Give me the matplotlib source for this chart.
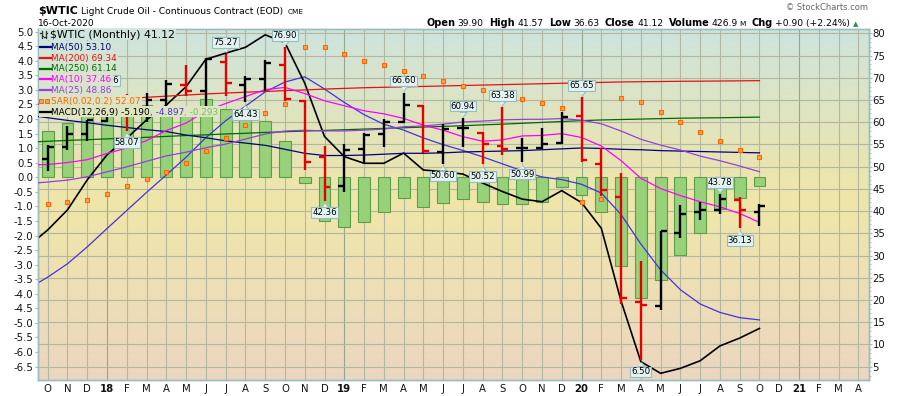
import numpy as np
import matplotlib
matplotlib.use("Agg")
import matplotlib.pyplot as plt
import matplotlib.transforms as mtransforms
from matplotlib.lines import Line2D
from matplotlib.patches import Rectangle

plt.rcParams['font.family'] = ['DejaVu Sans']
plt.rcParams['axes.unicode_minus'] = False

W, H = 900, 396

# --- monthly bars Oct 2017 .. Oct 2020, axis runs on to Apr 2021 ---
month_labels = ['O', 'N', 'D', '18', 'F', 'M', 'A', 'M', 'J', 'J', 'A', 'S',
                'O', 'N', 'D', '19', 'F', 'M', 'A', 'M', 'J', 'J', 'A', 'S',
                'O', 'N', 'D', '20', 'F', 'M', 'A', 'M', 'J', 'J', 'A', 'S',
                'O', 'D', '21', 'F', 'M', 'A']

opens = [51.67, 54.50, 57.45, 60.20, 64.78, 61.69, 64.92, 68.31, 67.04, 73.60, 68.40, 69.80,
         72.90, 64.80, 52.10, 45.70, 53.90, 57.30, 60.10, 63.60, 53.20, 58.60, 57.60, 54.60,
         54.10, 54.10, 55.40, 61.30, 50.60, 43.20, 19.60, 18.70, 35.10, 39.90, 40.20, 42.50, 39.90]
highs = [54.90, 59.05, 60.51, 66.66, 66.32, 66.55, 69.56, 72.90, 74.46, 75.27, 70.40, 73.90,
         76.90, 65.00, 54.55, 55.20, 57.60, 60.73, 66.60, 63.90, 59.70, 60.94, 57.70, 63.38,
         56.40, 58.60, 62.30, 65.65, 54.10, 48.50, 28.80, 35.60, 41.40, 42.10, 43.78, 43.10, 41.57]
lows = [49.10, 53.80, 55.82, 60.00, 58.07, 59.95, 62.40, 65.80, 63.59, 66.00, 64.43, 67.10,
        64.86, 49.20, 42.36, 44.40, 50.90, 54.52, 59.90, 53.00, 50.60, 54.50, 50.52, 52.60,
        50.99, 54.00, 55.10, 51.10, 43.32, 19.00, 6.50, 17.80, 33.90, 38.10, 39.30, 36.13, 36.63]
closes = [54.38, 57.40, 60.42, 64.73, 61.64, 64.94, 68.57, 67.04, 74.15, 68.76, 69.80, 73.25,
          65.31, 50.93, 45.41, 53.79, 57.22, 60.14, 63.91, 53.50, 58.47, 58.58, 55.10, 54.07,
          54.18, 55.17, 61.06, 51.56, 44.76, 20.48, 18.84, 35.49, 39.27, 40.27, 42.61, 40.22, 41.12]

# overlay lines start at Sep 2017 so they run in from the left edge
ma50 = [61.6, 61.0, 60.4, 59.9, 59.3, 58.8, 58.3, 57.9, 57.1, 56.5, 55.8, 55.3, 54.8,
        53.9, 53.0, 52.5, 52.5, 52.6, 52.8, 53.0, 53.0, 53.1, 53.3, 53.4, 53.5, 53.6,
        53.8, 54.0, 54.2, 54.1, 53.9, 53.8, 53.6, 53.5, 53.4, 53.3, 53.2, 53.10]
ma200 = [63.9, 64.2, 64.5, 64.75, 65.0, 65.3, 65.6, 65.85, 66.1, 66.35, 66.55, 66.75, 66.9,
         67.1, 67.25, 67.45, 67.6, 67.75, 67.85, 67.95, 68.05, 68.15, 68.25, 68.35, 68.45,
         68.55, 68.65, 68.75, 68.85, 68.95, 69.05, 69.1, 69.15, 69.2, 69.22, 69.26, 69.3, 69.34]
ma250 = [55.5, 55.7, 55.9, 56.05, 56.25, 56.4, 56.6, 56.8, 57.0, 57.15, 57.35, 57.5, 57.7,
         57.85, 58.0, 58.15, 58.3, 58.45, 58.6, 58.75, 58.9, 59.05, 59.2, 59.4, 59.55, 59.75,
         59.95, 60.15, 60.35, 60.5, 60.6, 60.7, 60.8, 60.9, 60.95, 61.0, 61.07, 61.14]
ma10 = [50.39, 50.46, 50.92, 51.56, 52.97, 54.20, 55.86, 58.12, 59.80, 62.49, 64.20, 65.75,
        67.33, 67.82, 66.44, 64.82, 63.70, 62.57, 61.88, 60.85, 59.33, 58.19, 56.73, 55.71,
        56.02, 56.90, 57.03, 57.42, 56.56, 54.65, 51.34, 47.38, 45.07, 43.49, 42.11, 40.95,
        39.46, 37.46]
ma25 = [46.17, 46.54, 46.97, 47.72, 48.83, 49.95, 51.20, 52.41, 53.25, 54.25, 55.07, 56.20,
        57.34, 58.02, 58.19, 58.03, 58.03, 58.20, 58.45, 58.98, 59.15, 59.55, 60.06, 60.25,
        60.53, 60.63, 60.66, 60.81, 60.45, 59.65, 58.01, 56.16, 54.84, 53.73, 52.37, 51.33,
        50.14, 48.86]
macd = [-2.37, -1.81, -1.12, -0.09, 0.77, 1.34, 1.97, 2.48, 3.11, 4.05, 4.26, 4.46, 4.89,
        4.62, 3.23, 1.40, 0.71, 0.48, 0.48, 0.83, 0.25, 0.19, 0.11, -0.20, -0.49, -0.75,
        -0.84, -0.46, -0.87, -1.75, -4.25, -6.33, -6.73, -6.56, -6.30, -5.79, -5.52, -5.190]
signal = [-3.83, -3.43, -2.97, -2.39, -1.76, -1.14, -0.52, 0.08, 0.69, 1.36, 1.94, 2.44, 2.93,
          3.27, 3.45, 3.03, 2.57, 2.15, 1.82, 1.62, 1.35, 1.12, 0.92, 0.70, 0.46, 0.22,
          0.01, -0.08, -0.24, -0.54, -1.28, -2.29, -3.18, -3.86, -4.35, -4.64, -4.82, -4.897]
# histogram and SAR: Oct 2017 .. Oct 2020
hist = [1.60, 1.86, 2.20, 2.50, 2.48, 2.49, 2.40, 2.42, 2.68, 2.33, 2.10, 1.93, 1.25,
        -0.20, -1.50, -1.72, -1.54, -1.20, -0.72, -1.03, -0.89, -0.75, -0.86, -0.93, -0.93,
        -0.84, -0.34, -0.61, -1.20, -3.04, -4.15, -3.52, -2.67, -1.92, -1.09, -0.72, -0.293]
sar = [41.7, 42.0, 42.6, 43.8, 45.6, 47.2, 48.7, 50.75, 53.5, 56.4, 59.3, 62.0, 64.0,
       76.85, 76.85, 75.3, 73.85, 72.9, 71.5, 70.4, 69.3, 68.1, 67.2, 66.2, 65.2, 64.4,
       63.3, 42.0, 42.7, 65.4, 64.5, 62.2, 60.0, 57.7, 55.7, 53.7, 52.07]

# high / low call-outs (bar index, side)
callouts = [(3, 'h'), (4, 'l'), (9, 'h'), (10, 'l'), (12, 'h'), (14, 'l'), (18, 'h'),
            (20, 'l'), (21, 'h'), (22, 'l'), (23, 'h'), (24, 'l'), (27, 'h'), (30, 'l'),
            (34, 'h'), (35, 'l')]

# --- colours ---
c_ma50, c_ma200, c_ma250 = '#000080', '#e81010', '#006a00'
c_ma10, c_ma25, c_sig = '#ff00ff', '#9440e0', '#4433dd'
c_sar = '#ff6600'
c_red = '#e60000'
grid_col, year_col = '#b3b7a0', '#93a690'
spine_col = '#9cbcc0'
lab_fc, lab_ec = '#e2f3f1', '#98bcbc'

g_pos = [0.0, 0.3, 0.5, 0.72, 1.0]
g_rgb = np.array([[235, 214, 193], [238, 224, 180], [240, 230, 168],
                  [226, 228, 188], [205, 228, 222]]) / 255.


def bg_at(f):
    return tuple(float(np.interp(f, g_pos, g_rgb[:, i])) for i in range(3))


fig = plt.figure(figsize=(9, 3.96), dpi=100)
px0, px1, py0, py1 = 37.7, 869.0, 28.7, 380.0
ax_m = fig.add_axes([px0 / W, 1 - py1 / H, (px1 - px0) / W, (py1 - py0) / H])
ax_p = ax_m.twinx()

kx = np.arange(len(closes))
kl = np.arange(-1, len(closes))

# background gradient
fr = np.linspace(0, 1, 300)
img = np.array([bg_at(f) for f in fr]).reshape(300, 1, 3)
ax_m.imshow(img, origin='lower', extent=(0, 1, 0, 1), transform=ax_m.transAxes,
            aspect='auto', zorder=0, interpolation='bilinear')

# grid
for i, lab in enumerate(month_labels):
    ax_m.axvline(i, color=year_col if lab.isdigit() else grid_col, lw=0.8, zorder=1)
for p in range(5, 81, 5):
    ax_m.plot([-2, 45], [p, p], transform=ax_p.transData, color=grid_col, lw=0.8, zorder=1)

# MACD panel (left scale)
ax_m.bar(kx, hist, width=0.6, color='#97d17a', edgecolor='#5f9e48', lw=0.8, zorder=2)
ax_m.plot(kl, signal, color=c_sig, lw=0.9, zorder=3)
ax_m.plot(kl, macd, color='black', lw=1.2, zorder=3)

# price overlays (right scale)
ax_p.plot(kl, ma250, color=c_ma250, lw=0.9, zorder=3)
ax_p.plot(kl, ma200, color=c_ma200, lw=0.9, zorder=3)
ax_p.plot(kl, ma50, color=c_ma50, lw=0.9, zorder=3)
ax_p.plot(kl, ma25, color=c_ma25, lw=0.9, zorder=3)
ax_p.plot(kl, ma10, color=c_ma10, lw=0.9, zorder=3)
ax_p.plot(kx, sar, ls='none', marker='s', ms=3, mfc='#ffa050', mec=c_sar, mew=0.8, zorder=4)

up = [closes[i] >= (closes[i - 1] if i else opens[0]) for i in range(len(closes))]
cols = ['black' if u else c_red for u in up]
ax_p.vlines(kx, lows, highs, colors=cols, lw=1.7, zorder=5)
ax_p.hlines(opens, kx - 0.3, kx, colors=cols, lw=1.7, zorder=5)
ax_p.hlines(closes, kx, kx + 0.3, colors=cols, lw=1.7, zorder=5)

# call-out boxes
tri_dn = [(-3.5, 0), (3.5, 0), (0, -4)]
tri_up = [(-3.5, 0), (3.5, 0), (0, 4)]
for i, side in callouts:
    if side == 'h':
        v, off, va, tri = highs[i], 1, 'bottom', tri_dn
    else:
        v, off, va, tri = lows[i], -1, 'top', tri_up
    tr = mtransforms.offset_copy(ax_p.transData, fig=fig, x=0, y=off * 6.5, units='dots')
    ax_p.plot([i], [v], marker=tri, ms=5.8, mfc=lab_fc, mec=lab_ec, mew=0.8,
              transform=tr, zorder=7, clip_on=False)
    ax_p.annotate('%.2f' % v, xy=(i, v), xytext=(0, off * 7.4), textcoords='offset pixels',
                  ha='center', va=va, fontsize=6.2, zorder=8,
                  bbox=dict(boxstyle='square,pad=0.1', fc=lab_fc, ec=lab_ec, lw=0.8))

# axes, ticks
ax_m.set_xlim(-0.506, 41.54)
ax_m.set_ylim(-6.96, 5.10)
ax_p.set_ylim(2.0, 81.03)

ax_m.set_yticks(np.arange(-6.5, 5.01, 0.5))
ax_m.set_yticklabels(['%.1f' % v for v in np.arange(-6.5, 5.01, 0.5)])
ax_p.set_yticks(np.arange(5, 81, 5))
ax_p.set_yticks(np.arange(3, 81, 1), minor=True)
ax_m.set_xticks(np.arange(len(month_labels)))
ax_m.set_xticklabels(month_labels)
for t in ax_m.get_xticklabels():
    if t.get_text().isdigit():
        t.set_fontweight('bold')

ax_m.tick_params(axis='y', length=2, width=0.8, color=spine_col, labelsize=7.3, pad=1,
                 labelcolor='#111111')
ax_m.tick_params(axis='x', length=0, labelsize=7.3, pad=3, labelcolor='#111111')
ax_p.tick_params(axis='y', which='major', length=2, width=0.8, color=spine_col,
                 labelsize=7.3, pad=0.5, labelcolor='#111111')
ax_p.tick_params(axis='y', which='minor', length=1.2, width=0.6, color=spine_col)
for a in (ax_m, ax_p):
    for s in a.spines.values():
        s.set_color(spine_col)
        s.set_linewidth(1.0)

# --- header and legend (figure level, pixel positions) ---
rend = fig.canvas.get_renderer()


def fx(x):
    return x / W


def fy(y):
    return 1 - y / H


def text_run(pieces, x, y, right=False):
    # pieces: (text, size, weight, color, gap_after)
    items, widths = [], []
    for s, size, wt, col, gap in pieces:
        t = fig.text(0, fy(y), s, fontsize=size, fontweight=wt, color=col,
                     ha='left', va='baseline', zorder=5)
        items.append(t)
        widths.append(t.get_window_extent(rend).width + gap)
    if right:
        x = x - sum(widths)
    for t, w in zip(items, widths):
        t.set_x(fx(x))
        x += w
    return x


text_run([('$WTIC', 8, 'bold', 'black', 3.5),
          ('Light Crude Oil - Continuous Contract (EOD)', 6.6, 'normal', 'black', 4),
          ('CME', 5.3, 'normal', 'black', 0)], 37.7, 14)
text_run([('16-Oct-2020', 6.5, 'normal', 'black', 0)], 37.7, 25.7)
text_run([('\u00a9 StockCharts.com', 6, 'normal', '#666666', 0)], 868, 10, right=True)
text_run([('Open', 7, 'bold', 'black', 2.5), ('39.90', 6.6, 'normal', 'black', 5.5),
          ('High', 7, 'bold', 'black', 2.5), ('41.57', 6.6, 'normal', 'black', 5.5),
          ('Low', 7, 'bold', 'black', 2.5), ('36.63', 6.6, 'normal', 'black', 5.5),
          ('Close', 7, 'bold', 'black', 2.5), ('41.12', 6.6, 'normal', 'black', 5.5),
          ('Volume', 7, 'bold', 'black', 2.5), ('426.9', 6.6, 'normal', 'black', 1),
          ('M', 5.3, 'normal', 'black', 5.5),
          ('Chg', 7, 'bold', 'black', 2.5), ('+0.90 (+2.24%)', 6.6, 'normal', 'black', 3),
          ('\u25b2', 5, 'normal', '#2f8a3a', 0)], 858, 25.7, right=True)

leg_rows = [
    [('$WTIC (Monthly) %.2f' % closes[-1], 'black')],
    [('MA(50) %.2f' % ma50[-1], c_ma50)],
    [('MA(200) %.2f' % ma200[-1], c_ma200)],
    [('MA(250) %.2f' % ma250[-1], c_ma250)],
    [('MA(10) %.2f' % ma10[-1], c_ma10)],
    [('MA(25) %.2f' % ma25[-1], c_ma25)],
    [('SAR(0.02,0.2) %.2f' % sar[-1], c_sar)],
    [('MACD(12,26,9) %.3f' % macd[-1], 'black'), (', %.3f' % signal[-1], c_sig),
     (', %.3f' % hist[-1], '#6cc46c')],
]
icon_cols = [None, c_ma50, c_ma200, c_ma250, c_ma10, c_ma25, None, 'black']
row_y = [34.5] + [46.4 + 10.85 * i for i in range(7)]
for r, (pieces, y) in enumerate(zip(leg_rows, row_y)):
    size = 7.8 if r == 0 else 6.4
    x_start = 49.5 if r == 0 else 51.0
    x_end = text_run([(s, size, 'normal', c, 0) for s, c in pieces], x_start, y + 3.3)
    bg = Rectangle((fx(38.6), fy(y + 5.45)), fx(x_end + 1.5 - 38.6), 10.9 / H,
                   transform=fig.transFigure, fc=bg_at((py1 - y) / (py1 - py0)),
                   ec='none', zorder=1)
    fig.add_artist(bg)
    if icon_cols[r] is not None:
        fig.add_artist(Line2D([fx(40), fx(50.5)], [fy(y + 0.5), fy(y + 0.5)], lw=1.6,
                              color=icon_cols[r], transform=fig.transFigure, zorder=2))
    elif r == 6:
        fig.add_artist(Line2D([fx(41), fx(47)], [fy(y + 0.5), fy(y + 0.5)], ls='none',
                              marker='s', ms=2.6, mfc='#ffa050', mec=c_sar, mew=0.7,
                              transform=fig.transFigure, zorder=2))
    else:
        for bx, top, bot, o, c in [(41.5, 30.5, 38.0, 33.0, 36.0), (45.5, 31.0, 38.0, 36.5, 32.5)]:
            fig.add_artist(Line2D([fx(bx), fx(bx)], [fy(top), fy(bot)], lw=0.9, color='#333333',
                                  transform=fig.transFigure, zorder=2))
            fig.add_artist(Line2D([fx(bx - 1.6), fx(bx)], [fy(o), fy(o)], lw=0.9, color='#333333',
                                  transform=fig.transFigure, zorder=2))
            fig.add_artist(Line2D([fx(bx), fx(bx + 1.6)], [fy(c), fy(c)], lw=0.9, color='#333333',
                                  transform=fig.transFigure, zorder=2))

fig.savefig('out.png', dpi=100)
